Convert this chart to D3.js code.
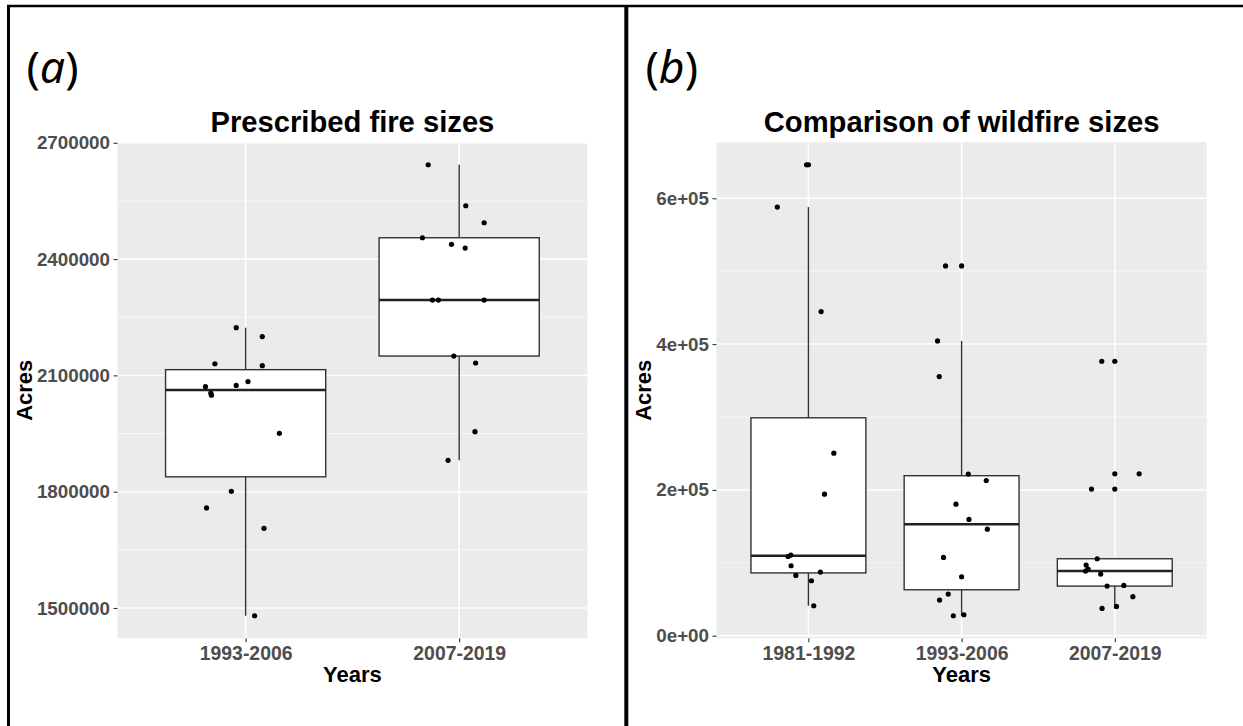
<!DOCTYPE html>
<html>
<head>
<meta charset="utf-8">
<script src="https://cdnjs.cloudflare.com/ajax/libs/d3/7.8.5/d3.min.js"></script>
<style>
  body { margin: 0; background: #fff; }
  svg { display: block; }
</style>
</head>
<body>
<script>
// values (acres), one array per period
// jitter = horizontal offset of each dot, in category units
const prescribedGroups = ["1993-2006", "2007-2019"];
const prescribed1993 = [2223000, 2200000, 2130000, 2125000, 2084000, 2074000, 2071000, 2054000, 2049000, 1950500, 1801000, 1758000, 1705500, 1480000];
const prescribed1993Jitter = [-0.044, 0.078, -0.144, 0.078, 0.011, -0.044, -0.188, -0.163, -0.160, 0.158, -0.067, -0.183, 0.086, 0.042];
const prescribed2007 = [2643300, 2537500, 2493700, 2455000, 2438000, 2428400, 2294300, 2294300, 2294300, 2149900, 2131900, 1954700, 1880900];
const prescribed2007Jitter = [-0.145, 0.031, 0.117, -0.172, -0.036, 0.028, -0.125, -0.097, 0.117, -0.025, 0.077, 0.074, -0.052];
const prescribedTicks = [1500000, 1800000, 2100000, 2400000, 2700000];
const prescribedMinor = [1650000, 1950000, 2250000, 2550000];

const wildfireGroups = ["1981-1992", "1993-2006", "2007-2019"];
const wildfire1981 = [646000, 588000, 444600, 250400, 194200, 110600, 108700, 96000, 87300, 82700, 75400, 41100];
const wildfire1981Jitter = [-0.012, -0.203, 0.083, 0.166, 0.105, -0.115, -0.133, -0.113, 0.078, -0.082, 0.02, 0.035];
const wildfire1993 = [507200, 404400, 355500, 221700, 212900, 180500, 159500, 146200, 107400, 80900, 57100, 48900, 28800, 27400];
const wildfire1993Jitter = [-0.105, -0.157, -0.146, 0.044, 0.161, -0.037, 0.048, 0.168, -0.118, 0.0, -0.087, -0.144, 0.015, -0.054];
const wildfire2007 = [376500, 222100, 201100, 105600, 96900, 91400, 88700, 84600, 69000, 68100, 53500, 40200, 37400];
const wildfire2007Jitter = [-0.085, 0.159, -0.152, -0.115, -0.187, -0.174, -0.191, -0.092, 0.059, -0.05, 0.118, 0.011, -0.083];
const wildfireTicks = [0, 200000, 400000, 600000];
const wildfireMinor = [100000, 300000, 500000];

const W = 1243, H = 726;
const svg = d3.select("body").append("svg").attr("width", W).attr("height", H);

// same rule as R's boxplot: type 7 quantiles, 1.5*IQR whiskers
function boxStats(vals) {
  let s = vals.slice().sort(d3.ascending);
  let q1 = d3.quantile(s, 0.25), med = d3.quantile(s, 0.5), q3 = d3.quantile(s, 0.75);
  let iqr = q3 - q1;
  let lo = q1 - 1.5 * iqr, hi = q3 + 1.5 * iqr;
  let inside = s.filter(v => v >= lo && v <= hi);
  return { q1: q1, med: med, q3: q3, wlo: d3.min(inside), whi: d3.max(inside), out: s.filter(v => v < lo || v > hi) };
}

function eFormat(v) {
  // 2e+05 style labels like R
  if (v === 0) return "0e+00";
  let e = Math.floor(Math.log10(v));
  let m = Math.round(v / Math.pow(10, e));
  return m + "e+" + (e < 10 ? "0" + e : e);
}

function boxPanel(opt) {
  let g = svg.append("g");
  let x0 = opt.left, x1 = opt.right, y0 = 142.2, y1 = 638.3;

  let all = d3.merge(opt.series);
  let lo = d3.min(all), hi = d3.max(all), pad = (hi - lo) * 0.05;
  let y = d3.scaleLinear().domain([lo - pad, hi + pad]).range([y1, y0]);
  let x = d3.scalePoint().domain(opt.groups).range([x0, x1]).padding(0.6);
  let step = x.step();

  // panel background + grid
  g.append("rect").attr("x", x0).attr("y", y0).attr("width", x1 - x0).attr("height", y1 - y0).attr("fill", "#ebebeb");
  g.selectAll(".minor").data(opt.minor).enter().append("line")
    .attr("x1", x0).attr("x2", x1).attr("y1", d => y(d)).attr("y2", d => y(d))
    .attr("stroke", "#f7f7f7").attr("stroke-width", 0.9);
  g.selectAll(".major").data(opt.ticks).enter().append("line")
    .attr("x1", x0).attr("x2", x1).attr("y1", d => y(d)).attr("y2", d => y(d))
    .attr("stroke", "#fff").attr("stroke-width", 1.5);
  g.selectAll(".vmajor").data(opt.groups).enter().append("line")
    .attr("x1", d => x(d)).attr("x2", d => x(d)).attr("y1", y0).attr("y2", y1)
    .attr("stroke", "#fff").attr("stroke-width", 1.5);

  // boxes
  opt.groups.forEach(function (grp, i) {
    let st = boxStats(opt.series[i]);
    let cx = x(grp), bw = step * 0.75;
    let b = g.append("g");
    b.append("line").attr("x1", cx).attr("x2", cx).attr("y1", y(st.q3)).attr("y2", y(st.whi))
      .attr("stroke", "#333").attr("stroke-width", 1.4);
    b.append("line").attr("x1", cx).attr("x2", cx).attr("y1", y(st.q1)).attr("y2", y(st.wlo))
      .attr("stroke", "#333").attr("stroke-width", 1.4);
    b.append("rect").attr("x", cx - bw / 2).attr("y", y(st.q3)).attr("width", bw).attr("height", y(st.q1) - y(st.q3))
      .attr("fill", "#fff").attr("stroke", "#333").attr("stroke-width", 1.4);
    b.append("line").attr("x1", cx - bw / 2).attr("x2", cx + bw / 2).attr("y1", y(st.med)).attr("y2", y(st.med))
      .attr("stroke", "#222").attr("stroke-width", 2.5);
    b.selectAll("circle").data(st.out).enter().append("circle")
      .attr("cx", cx).attr("cy", d => y(d)).attr("r", 2.6).attr("fill", "#000");
  });

  // jittered points on top
  opt.groups.forEach(function (grp, i) {
    let pts = opt.series[i].map((v, k) => ({ v: v, j: opt.jitter[i][k] }));
    g.append("g").selectAll("circle").data(pts).enter().append("circle")
      .attr("cx", d => x(grp) + d.j * step).attr("cy", d => y(d.v)).attr("r", 2.6).attr("fill", "#000");
  });

  // axes
  let ya = g.append("g").attr("transform", "translate(" + x0 + ",0)")
    .call(d3.axisLeft(y).tickValues(opt.ticks).tickSize(4).tickPadding(3.5).tickFormat(opt.fmt));
  let xa = g.append("g").attr("transform", "translate(0," + y1 + ")")
    .call(d3.axisBottom(x).tickSize(4).tickPadding(4.2));
  [ya, xa].forEach(function (a) {
    a.select(".domain").remove();
    a.selectAll(".tick line").attr("stroke", "#333").attr("stroke-width", 1.1);
    a.selectAll(".tick text").attr("fill", "#4d4d4d").attr("font-family", "Liberation Sans, Arial, sans-serif")
      .attr("font-weight", "bold");
  });
  ya.selectAll(".tick text").attr("font-size", "18.8px");
  xa.selectAll(".tick text").attr("font-size", "19.4px");

  let cxp = (x0 + x1) / 2;
  g.append("text").attr("x", cxp).attr("y", 132.3).attr("text-anchor", "middle")
    .attr("font-family", "Liberation Sans, Arial, sans-serif").attr("font-weight", "bold").attr("font-size", "29.2px")
    .attr("fill", "#000").text(opt.title);
  g.append("text").attr("x", cxp).attr("y", 682).attr("text-anchor", "middle")
    .attr("font-family", "Liberation Sans, Arial, sans-serif").attr("font-weight", "bold").attr("font-size", "22px")
    .attr("fill", "#000").text("Years");
  g.append("text").attr("transform", "translate(" + opt.ylabX + "," + ((y0 + y1) / 2) + ") rotate(-90)")
    .attr("text-anchor", "middle")
    .attr("font-family", "Liberation Sans, Arial, sans-serif").attr("font-weight", "bold").attr("font-size", "22px")
    .attr("fill", "#000").text("Acres");

  // (a) / (b) tag
  let tag = svg.append("text").attr("x", opt.tagX).attr("y", 83)
    .attr("font-family", "Noto Sans, Open Sans, sans-serif").attr("font-size", "44.5px").attr("fill", "#000");
  tag.append("tspan").text("(");
  tag.append("tspan").attr("font-style", "italic").text(opt.tag);
  tag.append("tspan").text(")");
}

boxPanel({
  left: 117.5, right: 587.3, groups: prescribedGroups,
  series: [prescribed1993, prescribed2007], jitter: [prescribed1993Jitter, prescribed2007Jitter],
  ticks: prescribedTicks, minor: prescribedMinor, fmt: d3.format("d"),
  title: "Prescribed fire sizes", ylabX: 31.7, tag: "a", tagX: 26.5
});

boxPanel({
  left: 716.5, right: 1206.7, groups: wildfireGroups,
  series: [wildfire1981, wildfire1993, wildfire2007], jitter: [wildfire1981Jitter, wildfire1993Jitter, wildfire2007Jitter],
  ticks: wildfireTicks, minor: wildfireMinor, fmt: eFormat,
  title: "Comparison of wildfire sizes", ylabX: 651, tag: "b", tagX: 645.5
});

// figure frame
svg.append("line").attr("x1", 8.5).attr("x2", 8.5).attr("y1", 5).attr("y2", H).attr("stroke", "#000").attr("stroke-width", 3);
svg.append("line").attr("x1", 7).attr("x2", W).attr("y1", 6).attr("y2", 6).attr("stroke", "#000").attr("stroke-width", 2.5);
svg.append("line").attr("x1", 626.3).attr("x2", 626.3).attr("y1", 5).attr("y2", H).attr("stroke", "#000").attr("stroke-width", 4);
</script>
</body>
</html>
